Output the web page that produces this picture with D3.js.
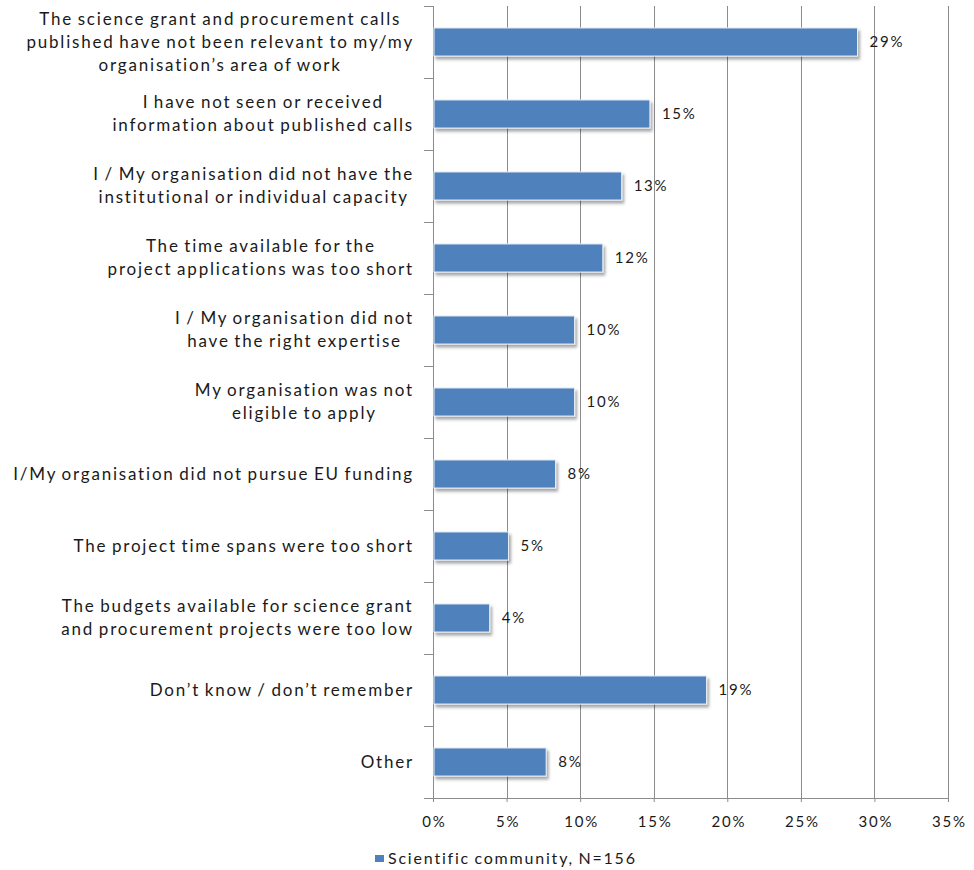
<!DOCTYPE html>
<html lang="en">
    <head>
        <meta charset="UTF-8" />
        <title>Reasons for not applying</title>
        <script src="https://d3js.org/d3.v7.min.js"></script>
        <style>
            body {
                margin: 0;
                background: #fff;
                font-family: Lato, "Open Sans", sans-serif;
            }
            .grid line {
                stroke: #8c8c8c;
                stroke-width: 1px;
            }
            .axis path,
            .axis line {
                stroke: #8c8c8c;
            }
            text {
                fill: #1a1a1a;
                letter-spacing: 1.8px;
                word-spacing: -1.5px;
            }
        </style>
    </head>
    <body>
        <svg width="974" height="870"></svg>

        <script>
            // categories, top to bottom (lines split with \n)
            const categories = [
                "The science grant and procurement calls\npublished have not been relevant to my/my\norganisation’s area of work",
                "I have not seen or received\ninformation about published calls",
                "I / My organisation did not have the\ninstitutional or individual capacity",
                "The time available for the\nproject applications was too short",
                "I / My organisation did not\nhave the right expertise",
                "My organisation was not\neligible to apply",
                "I/My organisation did not pursue EU funding",
                "The project time spans were too short",
                "The budgets available for science grant\nand procurement projects were too low",
                "Don’t know / don’t remember",
                "Other",
            ];
            // percent of respondents (scientific community, N=156)
            const values = [
                28.85, 14.74, 12.82, 11.54, 9.62, 9.62, 8.33, 5.13, 3.85,
                18.59, 7.69,
            ];
            const xTicks = [0, 5, 10, 15, 20, 25, 30, 35];
            const seriesName = "Scientific community, N=156";

            const data = categories.map((c, i) => ({
                cat: c,
                value: values[i],
            }));

            const svg = d3.select("svg");
            const plotLeft = 433,
                plotRight = 948,
                plotTop = 6,
                plotBottom = 798;

            const x = d3
                .scaleLinear()
                .domain([0, 35])
                .range([plotLeft, plotRight]);
            const y = d3
                .scaleBand()
                .domain(categories)
                .range([plotTop, plotBottom])
                .paddingInner(0.61)
                .paddingOuter(0.305);

            const defs = svg.append("defs");
            const shadow = defs
                .append("filter")
                .attr("id", "shadow")
                .attr("x", "-10%")
                .attr("y", "-30%")
                .attr("width", "130%")
                .attr("height", "180%");
            shadow
                .append("feDropShadow")
                .attr("dx", 2)
                .attr("dy", 3)
                .attr("stdDeviation", 1.6)
                .attr("flood-color", "#000")
                .attr("flood-opacity", 0.35);

            // vertical gridlines
            svg.append("g")
                .attr("class", "grid")
                .selectAll("line")
                .data(xTicks.slice(1))
                .enter()
                .append("line")
                .attr("x1", (d) => Math.round(x(d)) + 0.5)
                .attr("x2", (d) => Math.round(x(d)) + 0.5)
                .attr("y1", plotTop)
                .attr("y2", plotBottom);

            // bottom axis
            const xAxis = svg
                .append("g")
                .attr("class", "axis")
                .attr("transform", `translate(0,${plotBottom})`)
                .call(
                    d3
                        .axisBottom(x)
                        .tickValues(xTicks)
                        .tickSize(4)
                        .tickSizeOuter(0)
                        .tickFormat((d) => d + "%")
                );
            xAxis
                .select(".domain")
                .attr("d", `M${plotLeft - 9},0.5H${plotRight}`);
            xAxis
                .selectAll("text")
                .attr("dy", 0)
                .attr("y", 29)
                .attr("dx", 1)
                .style("font-size", "15px")
                .style("font-family", "Lato, sans-serif")
                .style("fill", "#1a1a1a");

            // left axis with ticks between categories
            const yAxis = svg.append("g").attr("class", "axis");
            yAxis
                .append("line")
                .attr("x1", plotLeft + 0.5)
                .attr("x2", plotLeft + 0.5)
                .attr("y1", plotTop)
                .attr("y2", plotBottom);
            yAxis
                .selectAll("line.tick")
                .data(d3.range(categories.length))
                .enter()
                .append("line")
                .attr("class", "tick")
                .attr("x1", plotLeft - 9)
                .attr("x2", plotLeft)
                .attr("y1", (i) => Math.round(plotTop + i * y.step()) + 0.5)
                .attr("y2", (i) => Math.round(plotTop + i * y.step()) + 0.5);

            // bars
            svg.append("g")
                .selectAll("rect")
                .data(data)
                .enter()
                .append("rect")
                .attr("x", x(0) + 1)
                .attr("y", (d) => y(d.cat))
                .attr("width", (d) => x(d.value) - x(0) - 1)
                .attr("height", y.bandwidth())
                .attr("fill", "#4f81bd")
                .attr("stroke", "#e8eef6")
                .attr("stroke-width", 1)
                .attr("filter", "url(#shadow)");

            // value labels
            svg.append("g")
                .selectAll("text")
                .data(data)
                .enter()
                .append("text")
                .attr("x", (d) => x(d.value) + 12)
                .attr("y", (d) => y(d.cat) + y.bandwidth() / 2)
                .attr("dy", "0.35em")
                .style("font-size", "15px")
                .text((d) => Math.round(d.value) + "%");

            // category labels: block right aligned, lines centred inside
            const lineH = 23;
            const labels = svg
                .append("g")
                .selectAll("text")
                .data(data)
                .enter()
                .append("text")
                .style("font-size", "17px")
                .attr("text-anchor", "middle");
            labels.each(function (d) {
                const lines = d.cat.split("\n");
                const t = d3.select(this);
                const cy = y(d.cat) + y.bandwidth() / 2;
                lines.forEach((ln, i) => {
                    t.append("tspan")
                        .attr("y", cy + (i - (lines.length - 1) / 2) * lineH)
                        .attr("dy", "0.35em")
                        .text(ln);
                });
                let w = 0;
                t.selectAll("tspan").each(function () {
                    w = Math.max(w, this.getComputedTextLength());
                });
                t.selectAll("tspan").attr("x", 414 - w / 2);
            });

            // legend
            const legend = svg.append("g");
            legend
                .append("rect")
                .attr("x", 375)
                .attr("y", 855)
                .attr("width", 9)
                .attr("height", 7)
                .attr("fill", "#4f81bd");
            legend
                .append("text")
                .attr("x", 388)
                .attr("y", 858)
                .attr("dy", "0.35em")
                .style("font-size", "16px")
                .text(seriesName);
        </script>
    </body>
</html>
